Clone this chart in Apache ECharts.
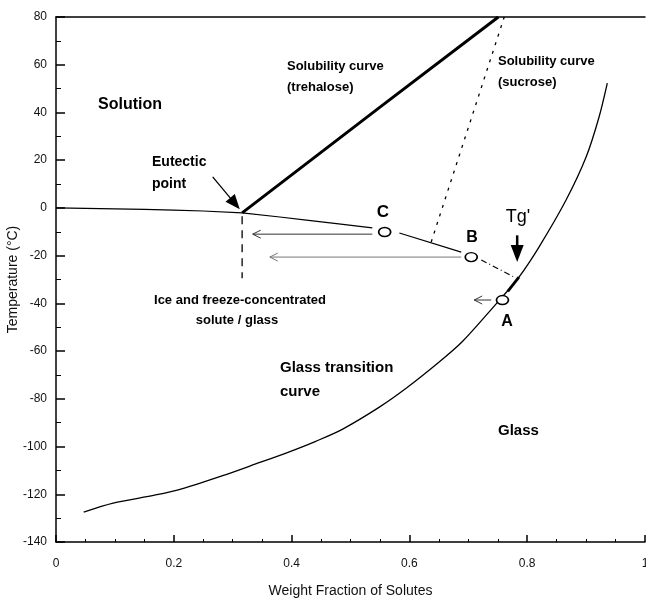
<!DOCTYPE html>
<html>
<head>
<meta charset="utf-8">
<script src="https://cdn.jsdelivr.net/npm/echarts@6/dist/echarts.min.js"></script>
<style>
html,body{margin:0;padding:0;background:#fff;}
#chart{width:646px;height:600px;}
</style>
</head>
<body>
<div id="chart"></div>
<script>
// ---------- data ----------
const xTicks = [0, 0.2, 0.4, 0.6, 0.8, 1];
const yTicks = [-140, -120, -100, -80, -60, -40, -20, 0, 20, 40, 60, 80];

// ice melting (freezing) curve up to point C
const iceX = [0, 0.05, 0.10, 0.15, 0.20, 0.25, 0.316, 0.38, 0.425, 0.48, 0.537];
const iceT = [0, -0.2, -0.4, -0.6, -0.9, -1.3, -2.1, -3.8, -5.1, -6.7, -8.4];
// segment between C and B
const cbX = [0.583, 0.688];
const cbT = [-10.5, -18.5];
// dash-dot extension from B to Tg'
const btX = [0.722, 0.781];
const btT = [-21.8, -29.4];
// solubility curves
const trehaloseX = [0.316, 0.549, 0.751];
const trehaloseT = [-2.1, 42, 80];
const sucroseX = [0.637, 0.761];
const sucroseT = [-14.3, 80];
// glass transition curve
const glassX = [0.047, 0.097, 0.169, 0.215, 0.283, 0.339, 0.395, 0.441, 0.486, 0.549, 0.595, 0.651, 0.690, 0.741, 0.758, 0.786, 0.820, 0.866, 0.900, 0.922, 0.936];
const glassT = [-127.5, -123.7, -120.3, -117.6, -112.2, -107.3, -102.3, -97.8, -92.8, -83.5, -75.5, -64.5, -56.0, -42.0, -37.2, -29.0, -16.4, 3.3, 21.3, 38.1, 52.3];
// thick segment of glass curve between A and Tg'
const tgSegX = [0.767, 0.786];
const tgSegT = [-35.0, -29.0];
// eutectic vertical dashed line
const eutX = [0.316, 0.316];
const eutT = [-3.5, -29.5];
// points C, B, A
const ptNames = ['C', 'B', 'A'];
const ptX = [0.558, 0.705, 0.758];
const ptT = [-10.1, -20.6, -38.6];
// arrows: from x, from T, to x, to T, kind
const arrowFromX = [0.537, 0.688, 0.739, 0.266, 0.783];
const arrowFromT = [-11.0, -20.6, -38.6, 13.0, -11.5];
const arrowToX = [0.334, 0.363, 0.710, 0.312, 0.783];
const arrowToT = [-11.0, -20.6, -38.6, -0.6, -22.7];
const arrowKind = [0, 1, 0, 2, 3];

// ---------- build ----------
const zip = (a, b) => a.map((v, i) => [v, b[i]]);
const arrowStyles = [
  {L: 8, W: 4, w: 1, color: '#333', filled: false},
  {L: 8, W: 4, w: 1, color: '#777', filled: false},
  {L: 15, W: 6, w: 1.3, color: '#000', filled: true},
  {L: 17, W: 6.5, w: 2.5, color: '#000', filled: true}
];
const arrowData = arrowFromX.map((v, i) => [v, arrowFromT[i], arrowToX[i], arrowToT[i], arrowKind[i]]);

const FONT = '"Liberation Sans", Arial, sans-serif';

function lineSeries(x, t, style, extra) {
  return Object.assign({
    type: 'line', data: zip(x, t), symbol: 'none', silent: true,
    lineStyle: Object.assign({color: '#000', width: 1.2}, style), z: 3
  }, extra || {});
}

const chart = echarts.init(document.getElementById('chart'), null, {renderer: 'canvas'});

function txt(text, x, y, size, weight, align) {
  return {
    type: 'text', x: x, y: y, z: 50,
    style: {text: text, font: (weight || 'bold') + ' ' + size + 'px ' + FONT, fill: '#000',
            textAlign: align || 'left', textVerticalAlign: 'middle'}
  };
}

const option = {
  animation: false,
  backgroundColor: '#fff',
  grid: {left: 56, right: 1, top: 17, bottom: 58, containLabel: false, outerBoundsMode: 'none'},
  xAxis: [{
    type: 'value', min: 0, max: 1, interval: 0.2,
    axisLine: {show: true, onZero: false, lineStyle: {color: '#000', width: 1.5}},
    axisTick: {show: true, inside: true, length: 7, lineStyle: {color: '#000', width: 1.5}},
    minorTick: {show: true, splitNumber: 4, length: 3, lineStyle: {color: '#000', width: 1}},
    splitLine: {show: false},
    axisLabel: {margin: 16, fontSize: 12, fontFamily: FONT, color: '#111',
      formatter: v => { const m = xTicks.find(t => Math.abs(t - v) < 1e-9); return m === undefined ? '' : String(m); }},
    name: 'Weight Fraction of Solutes', nameLocation: 'middle', nameGap: 42, nameMoveOverlap: false,
    nameTextStyle: {fontSize: 14, fontFamily: FONT, color: '#111'}
  }, {
    type: 'value', position: 'top', min: 0, max: 1,
    axisLine: {show: true, onZero: false, lineStyle: {color: '#000', width: 1.5}},
    axisTick: {show: false}, axisLabel: {show: false}, splitLine: {show: false}
  }],
  yAxis: {
    type: 'value', min: -140, max: 80, interval: 20,
    axisLine: {show: true, onZero: false, lineStyle: {color: '#000', width: 1.5}},
    axisTick: {show: true, inside: true, length: 9, lineStyle: {color: '#000', width: 1.5}},
    minorTick: {show: true, splitNumber: 2, length: 5, lineStyle: {color: '#000', width: 1}},
    splitLine: {show: false},
    axisLabel: {margin: 9, fontSize: 12, fontFamily: FONT, color: '#111',
      formatter: v => { const m = yTicks.find(t => t === v); return m === undefined ? '' : String(m); }},
    name: 'Temperature (°C)', nameLocation: 'middle', nameRotate: 90, nameGap: 36, nameMoveOverlap: false,
    nameTextStyle: {fontSize: 14, fontFamily: FONT, color: '#111'}
  },
  series: [
    lineSeries(iceX, iceT, {width: 1.2}),
    lineSeries(cbX, cbT, {width: 1.2}),
    lineSeries(btX, btT, {width: 1.1, type: [6, 3, 1, 3]}),
    lineSeries(trehaloseX, trehaloseT, {width: 3}),
    lineSeries(sucroseX, sucroseT, {width: 1.3, type: [3, 6]}),
    lineSeries(glassX, glassT, {width: 1.3}, {smooth: 0.3}),
    lineSeries(tgSegX, tgSegT, {width: 2.8}),
    lineSeries(eutX, eutT, {width: 1.3, type: [8, 6]}),
    {
      type: 'custom', silent: true, z: 4, clip: false,
      encode: {x: [0, 2], y: [1, 3]},
      data: arrowData,
      renderItem: function (params, api) {
        const p1 = api.coord([api.value(0), api.value(1)]);
        const p2 = api.coord([api.value(2), api.value(3)]);
        const s = arrowStyles[api.value(4)];
        const dx = p2[0] - p1[0], dy = p2[1] - p1[1];
        const len = Math.sqrt(dx * dx + dy * dy) || 1;
        const ux = dx / len, uy = dy / len, nx = -uy, ny = ux;
        const bx = p2[0] - ux * s.L, by = p2[1] - uy * s.L;
        const children = [];
        if (s.filled) {
          children.push({type: 'line', shape: {x1: p1[0], y1: p1[1], x2: bx + ux * 2, y2: by + uy * 2},
            style: {stroke: s.color, lineWidth: s.w}});
          children.push({type: 'polygon', shape: {points: [[p2[0], p2[1]], [bx + nx * s.W, by + ny * s.W], [bx - nx * s.W, by - ny * s.W]]},
            style: {fill: s.color}});
        } else {
          children.push({type: 'line', shape: {x1: p1[0], y1: p1[1], x2: p2[0], y2: p2[1]},
            style: {stroke: s.color, lineWidth: s.w}});
          children.push({type: 'polyline', shape: {points: [[bx + nx * s.W, by + ny * s.W], [p2[0], p2[1]], [bx - nx * s.W, by - ny * s.W]]},
            style: {stroke: s.color, lineWidth: s.w, fill: null}});
        }
        return {type: 'group', children: children};
      }
    },
    {
      type: 'scatter', silent: true, z: 6,
      data: zip(ptX, ptT),
      symbol: 'circle', symbolSize: [12, 9],
      itemStyle: {color: '#fff', borderColor: '#000', borderWidth: 1.5, opacity: 1}
    }
  ],
  graphic: [
    txt('Solution', 98, 105, 16),
    txt('Solubility curve', 287, 66, 13),
    txt('(trehalose)', 287, 87, 13),
    txt('Solubility curve', 498, 61, 13),
    txt('(sucrose)', 498, 82, 13),
    txt('Eutectic', 152, 162, 14),
    txt('point', 152, 184, 14),
    txt(ptNames[0], 383, 212, 17, 'bold', 'center'),
    txt(ptNames[1], 472, 238, 16, 'bold', 'center'),
    txt("Tg'", 518, 217, 18, 'normal', 'center'),
    txt(ptNames[2], 507, 322, 16, 'bold', 'center'),
    txt('Ice and freeze-concentrated', 240, 300, 13, 'bold', 'center'),
    txt('solute / glass', 237, 320, 13, 'bold', 'center'),
    txt('Glass transition', 280, 368, 15),
    txt('curve', 280, 392, 15),
    txt('Glass', 498, 431, 15)
  ]
};
chart.setOption(option);
</script>
</body>
</html>
